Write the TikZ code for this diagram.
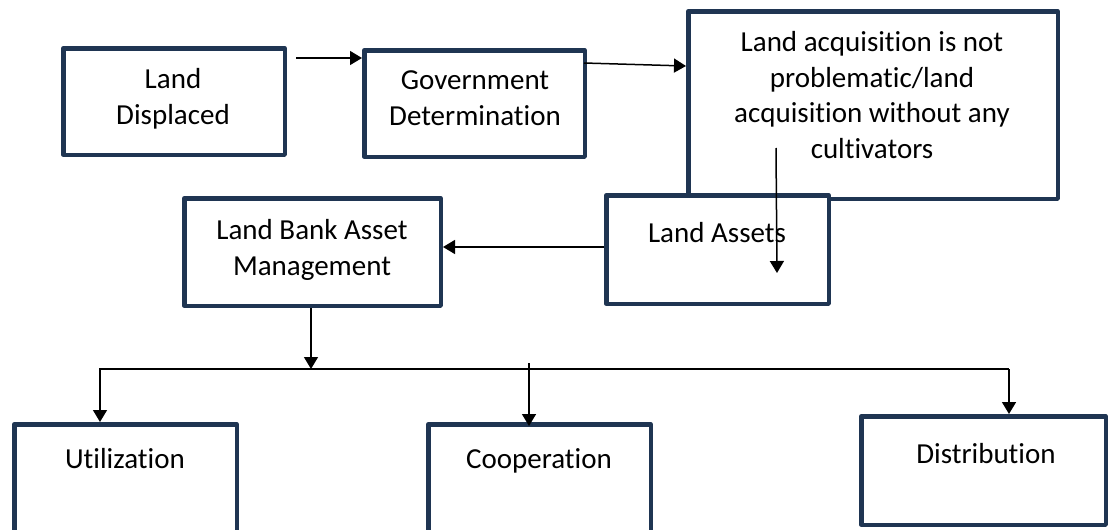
\documentclass[tikz,border=0pt]{standalone}
\usepackage{fontspec}
\setmainfont{Carlito}[RawFeature={-liga;-clig;-dlig;-calt}]
\usetikzlibrary{arrows.meta,calc}
\definecolor{navy}{HTML}{1F3552}
\newcommand{\ti}{t\kern0pt i}
\begin{document}
\begin{tikzpicture}[x=1pt,y=-1pt,
  box/.style={draw=navy,line width=4.5pt,line join=round,fill=white,inner sep=0pt},
  txt/.style={font=\fontsize{29}{35.7}\selectfont,align=center,inner sep=0pt,text=black},
  arr/.style={draw=black,line width=1.5pt,-{Triangle[length=12pt,width=14pt]}}]
\useasboundingbox (0,0) rectangle (1109,530);
\clip (0,0) rectangle (1109,530);
\fill[white] (0,0) rectangle (1109,530);
% boxes
\node[box,minimum width=221.5pt,minimum height=106.5pt] (b1) at (174,101.5) {};
\node[box,minimum width=220.5pt,minimum height=106.5pt] (b2) at (474.5,103.5) {};
\node[box,minimum width=369.5pt,minimum height=187.5pt] (b3) at (873,105) {};
\node[box,minimum width=222.5pt,minimum height=108.5pt] (la) at (717.5,249.5) {};
\node[box,minimum width=256.5pt,minimum height=107.5pt] (lbam) at (312.5,252) {};
\node[box,minimum width=222.5pt,minimum height=173.5pt] (util) at (125.5,511) {};
\node[box,minimum width=222.5pt,minimum height=173.5pt] (coop) at (539.5,511) {};
\node[box,minimum width=244.5pt,minimum height=108.5pt] (dist) at (983.5,470.5) {};
% texts
\node[txt] (t1) at (173,99) {Land\\Displaced};
\node[txt] (t2) at (475,98) {Government\\Determina\ti on};
\node[txt] (t3) at (872,95) {Land acquisi\ti on is not\\problema\ti c/land\\acquisi\ti on without any\\cul\ti vators};
\node[txt,anchor=base] (t4) at (717,242) {Land Assets};
\node[txt] (t5) at (312,250) {Land Bank Asset\\Management};
\node[txt,anchor=base] (t6) at (125,468) {Utiliza\ti on};
\node[txt,anchor=base] (t7) at (539,468) {Coopera\ti on};
\node[txt,anchor=base] (t8) at (986,463) {Distribu\ti on};
% connectors
\coordinate (busL) at (100,369);
\coordinate (busR) at (1009,369);
\coordinate (coopT) at (529,363);
\draw[arr] ($(b1.north east)+(9,12)$) -- ($(b2.north west)+(0,10)$);
\draw[arr] ($(b2.north east)+(-3,15)$) -- ($(b3.north west)+(0,57)$);
\draw[arr] ($(b3.south west)+(90,-53)$) -- ($(la.south west)+(173,-33)$);
\draw[arr] ($(la.west)+(0,-2.5)$) -- ($(lbam.east)+(0,-5)$);
\draw[arr] ($(lbam.south)+(-1.5,0)$) -- ($(lbam.south |- busL)+(-1.5,0)$);
\draw[arr] (busR) -- (busL) -- (busL |- util.north);
\draw[arr] (busR) -- (busR |- dist.north);
\draw[arr] (coopT) -- ($(coopT |- coop.north)+(0,4)$);
\end{tikzpicture}
\end{document}
